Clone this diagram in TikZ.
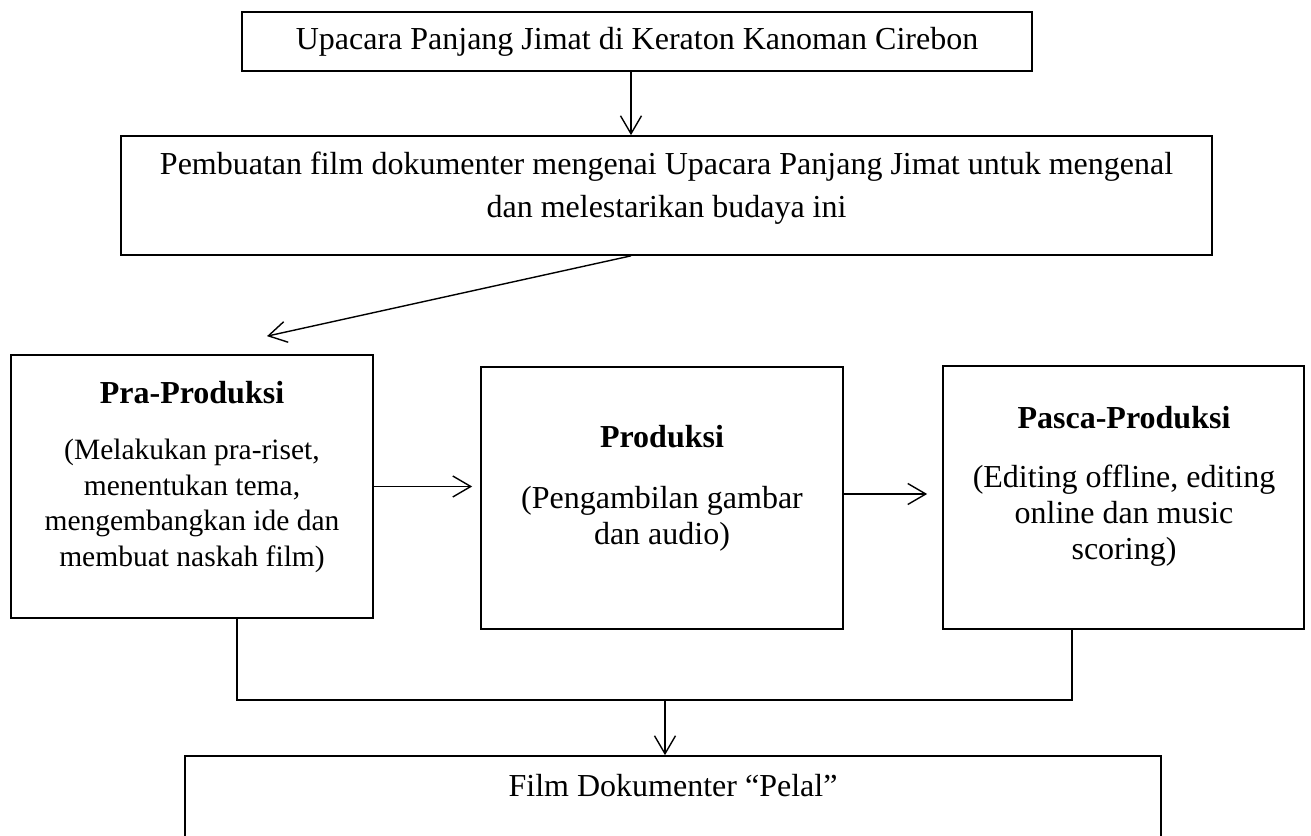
\documentclass[tikz,border=0pt]{standalone}
\usepackage{fontspec}
\setmainfont{Liberation Serif}
\usetikzlibrary{arrows.meta}

\begin{document}
\begin{tikzpicture}
  [x=1pt,y=-1pt,
   box/.style={draw,line width=1.7pt,inner sep=0pt},
   txt/.style={inner sep=0pt,align=center,font=\fontsize{32}{36}\selectfont},
   ttl/.style={inner sep=0pt,font=\fontsize{32}{36}\selectfont\bfseries},
   arr/.style={-{Straight Barb[length=18pt,width=21pt]},line width=1.4pt}]
  \useasboundingbox (0,0) rectangle (1311,835);
  \node[box,txt,minimum width=790pt,minimum height=59pt] (upacara) at (637,41.5)
    {Upacara Panjang Jimat di Keraton Kanoman Cirebon};
  \node[box,minimum width=1091pt,minimum height=119pt] (buat) at (666.5,195.5) {};
  \node[txt] (buatT) at (666.5,188)
    {Pembuatan film dokumenter mengenai Upacara Panjang Jimat untuk mengenal\\[7pt]
     dan melestarikan budaya ini};
  % three stages
  \node[box,minimum width=362pt,minimum height=263pt] (pra) at (192,486.5) {};
  \node[ttl] (praT) at (192,392.5) {Pra-Produksi};
  \node[txt,font=\fontsize{29.5}{35.7}\selectfont] (praD) at (192,506)
    {(Melakukan pra-riset,\\ menentukan tema,\\ mengembangkan ide dan\\ membuat naskah film)};
  \node[box,minimum width=362pt,minimum height=262pt] (prod) at (662,498) {};
  \node[ttl] (prodT) at (662,437) {Produksi};
  \node[txt] (prodD) at (662,518.5) {(Pengambilan gambar\\ dan audio)};
  \node[box,minimum width=361pt,minimum height=263pt] (pasca) at (1123.5,497.5) {};
  \node[ttl] (pascaT) at (1124,418) {Pasca-Produksi};
  \node[txt] (pascaD) at (1124,516) {(Editing offline, editing\\ online dan music\\ scoring)};
  % result
  \node[box,minimum width=976pt,minimum height=120pt] (film) at (673,816) {};
  \node[txt] (filmT) at (673,785.5) {Film Dokumenter “Pelal”};
  \coordinate (join) at (665,700);
  \draw[arr] ([xshift=-6pt]upacara.south) -- ([xshift=-6pt]upacara.south |- buat.north);
  \draw[arr] ([xshift=-35.5pt]buat.south) -- ([shift={(75pt,18pt)}]pra.north);
  \draw[arr] (pra.east) -- ([xshift=-8pt]pra.east -| prod.west);
  \draw[arr] ([yshift=4pt]prod.east) -- ([shift={(-15pt,4pt)}]prod.east -| pasca.west);
  \draw[line width=2.2pt] ([xshift=45pt]pra.south) |- (join) -| ([xshift=-51.5pt]pasca.south);
  \draw[arr] (join) -- (join |- film.north);
\end{tikzpicture}
\end{document}
